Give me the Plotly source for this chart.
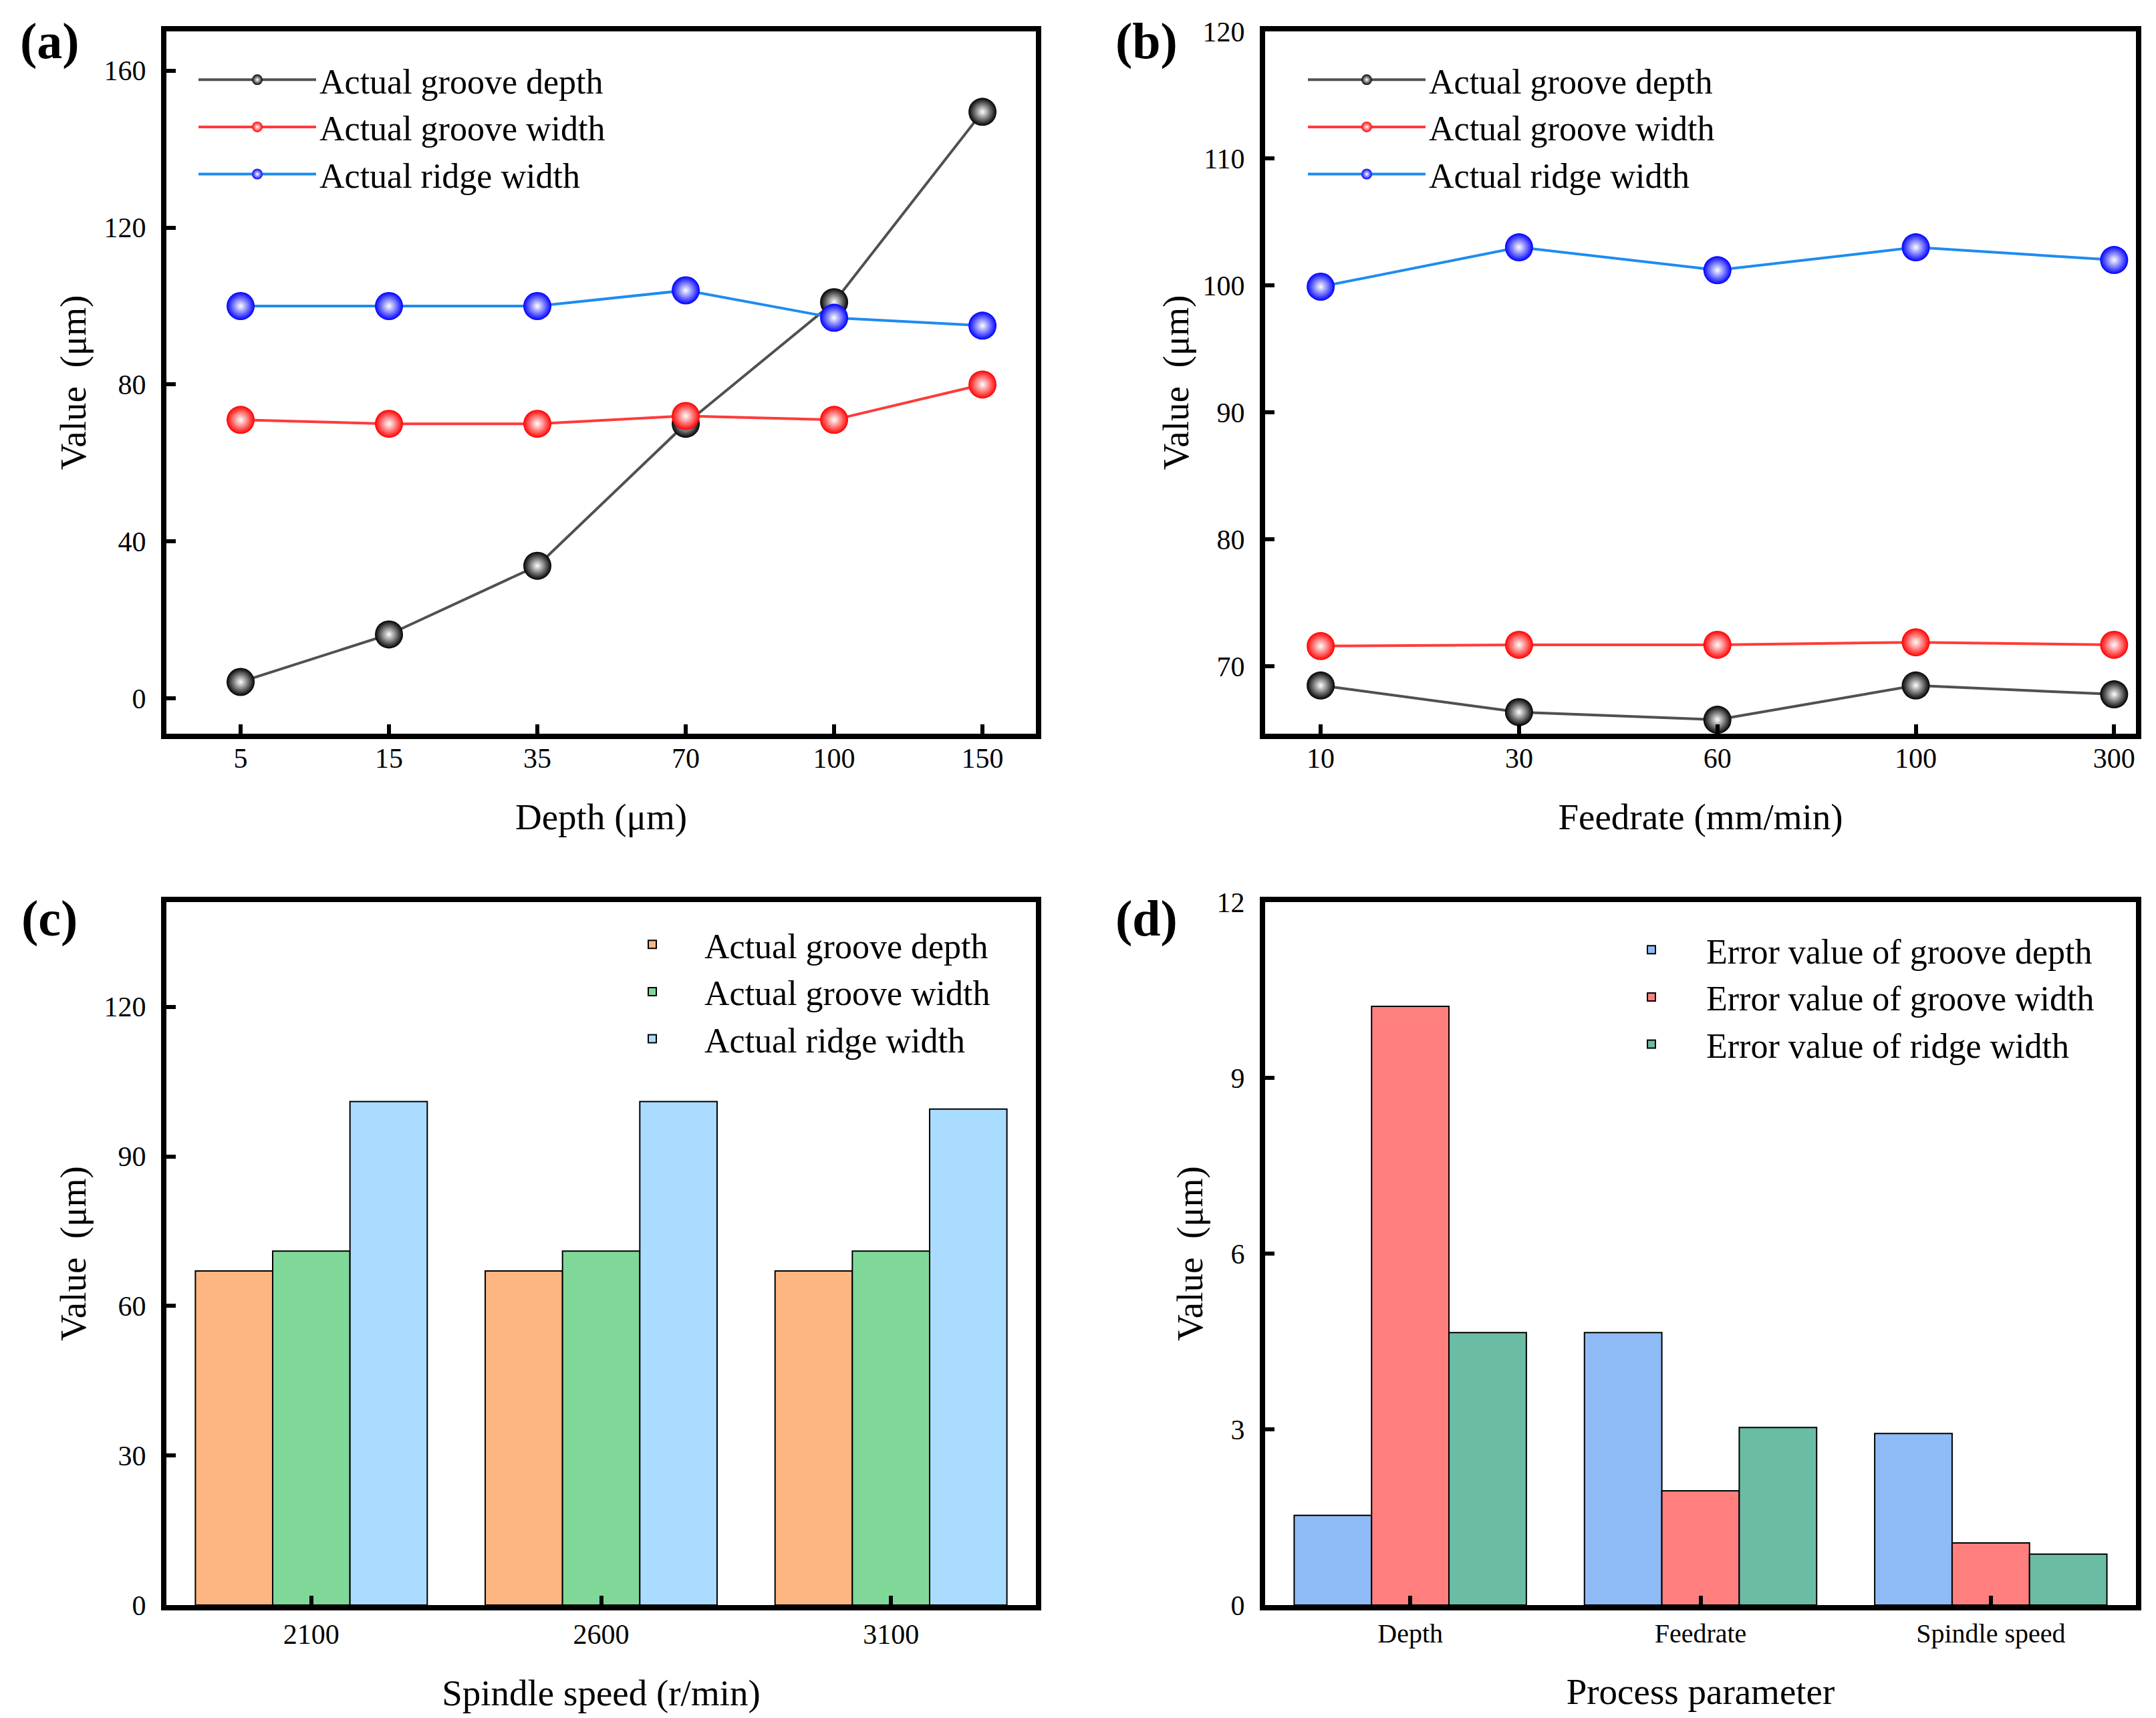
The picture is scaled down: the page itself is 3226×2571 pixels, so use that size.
import plotly.graph_objects as go

FONT = "Liberation Serif, Times New Roman, serif"
W, H = 3226, 2571

# (a) varying depth
depth_labels = ["5", "15", "35", "70", "100", "150"]
a_groove_depth = [4.2, 16.3, 33.8, 70.0, 101.0, 149.5]
a_groove_width = [71.0, 70.0, 70.0, 72.0, 71.0, 80.0]
a_ridge_width = [100.0, 100.0, 100.0, 104.0, 97.0, 95.0]

# (b) varying feedrate
feed_labels = ["10", "30", "60", "100", "300"]
b_groove_depth = [68.5, 66.4, 65.8, 68.5, 67.8]
b_groove_width = [71.6, 71.7, 71.7, 71.9, 71.7]
b_ridge_width = [99.9, 103.0, 101.2, 103.0, 102.0]

# (c) varying spindle speed
speed_labels = ["2100", "2600", "3100"]
c_groove_depth = [67.0, 67.0, 67.0]
c_groove_width = [71.0, 71.0, 71.0]
c_ridge_width = [101.0, 101.0, 99.5]

# (d) error values per process parameter
param_labels = ["Depth", "Feedrate", "Spindle speed"]
d_depth_err = [1.53, 4.65, 2.93]
d_width_err = [10.22, 1.95, 1.06]
d_ridge_err = [4.65, 3.03, 0.87]

line_names = ["Actual groove depth", "Actual groove width", "Actual ridge width"]
line_colors = ["#505050", "#FF3B3B", "#1E8CF0"]
marker_colors = ["#000000", "#FF0000", "#0000FF"]

fig = go.Figure()

def add_lines(x, series, xa, ya, legend):
    for name, vals, lc, mc in zip(line_names, series, line_colors, marker_colors):
        fig.add_trace(go.Scatter(
            x=x, y=vals, name=name, mode="lines+markers",
            xaxis=xa, yaxis=ya, legend=legend,
            line=dict(color=lc, width=4),
            marker=dict(size=42, color=mc,
                        gradient=dict(type="radial", color="#FFFFFF"),
                        line=dict(width=0)),
        ))

add_lines(depth_labels, [a_groove_depth, a_groove_width, a_ridge_width], "x", "y", "legend")
add_lines(feed_labels, [b_groove_depth, b_groove_width, b_ridge_width], "x2", "y2", "legend2")

bar_line = dict(color="black", width=2)
for name, vals, col in zip(line_names, [c_groove_depth, c_groove_width, c_ridge_width],
                           ["#FDB582", "#80D898", "#AADCFF"]):
    fig.add_trace(go.Bar(x=speed_labels, y=vals, name=name, xaxis="x3", yaxis="y3",
                         legend="legend3", marker=dict(color=col, line=bar_line)))

err_names = ["Error value of groove depth", "Error value of groove width", "Error value of ridge width"]
for name, vals, col in zip(err_names, [d_depth_err, d_width_err, d_ridge_err],
                           ["#8EBBF5", "#FF7F7F", "#6ABCA5"]):
    fig.add_trace(go.Bar(x=param_labels, y=vals, name=name, xaxis="x4", yaxis="y4",
                         legend="legend4", marker=dict(color=col, line=bar_line)))

tick_font = dict(family=FONT, size=42, color="black")
title_font = dict(family=FONT, size=55, color="black")

def ax(**kw):
    base = dict(showline=True, mirror=True, linecolor="black", linewidth=8,
                ticks="inside", ticklen=14, tickwidth=6, tickcolor="black",
                showgrid=False, zeroline=False, automargin=False, tickfont=tick_font)
    base.update(kw)
    return base

def xdom(l, r):
    return [l / W, r / W]

def ydom(t, b):
    return [1 - b / H, 1 - t / H]

ytitle = "Value\u00a0\u00a0(μm)"
dom_top = ydom(39, 1090)
dom_bot = ydom(1342, 2394)
dom_left = xdom(241, 1542)
dom_right = xdom(1885, 3188)

legend_style = dict(bgcolor="rgba(0,0,0,0)", font=dict(family=FONT, size=52, color="black"),
                    xanchor="left", yanchor="top", tracegroupgap=0)

fig.update_layout(
    width=W, height=H,
    paper_bgcolor="white", plot_bgcolor="white",
    margin=dict(l=0, r=0, t=0, b=0),
    barmode="group", bargap=0.2, bargroupgap=0,
    font=dict(family=FONT, color="black"),
    xaxis=ax(domain=dom_left, anchor="y", type="category", range=[-0.5, 5.36],
             ticklabelstandoff=-7,
             title=dict(text="Depth (μm)", font=title_font, standoff=48)),
    yaxis=ax(domain=dom_top, anchor="x", range=[-9, 170], tick0=0, dtick=40,
             ticklabelstandoff=14,
             title=dict(text=ytitle, font=title_font, standoff=12)),
    xaxis2=ax(domain=dom_right, anchor="y2", type="category", range=[-0.28, 4.11],
              ticklabelstandoff=-7,
              title=dict(text="Feedrate (mm/min)", font=title_font, standoff=48)),
    yaxis2=ax(domain=dom_top, anchor="x2", range=[64.7, 120], tick0=70, dtick=10,
              ticklabelstandoff=14,
              title=dict(text=ytitle, font=title_font, standoff=6)),
    xaxis3=ax(domain=dom_left, anchor="y3", type="category", range=[-0.5, 2.5],
              title=dict(text="Spindle speed (r/min)", font=title_font, standoff=48)),
    yaxis3=ax(domain=dom_bot, anchor="x3", range=[0, 141], tick0=0, dtick=30,
              ticklabelstandoff=14,
              title=dict(text=ytitle, font=title_font, standoff=12)),
    xaxis4=ax(domain=dom_right, anchor="y4", type="category", range=[-0.5, 2.5],
              tickfont=dict(family=FONT, size=40, color="black"),
              title=dict(text="Process parameter", font=title_font, standoff=48)),
    yaxis4=ax(domain=dom_bot, anchor="x4", range=[0, 12], tick0=0, dtick=3,
              ticklabelstandoff=14,
              title=dict(text=ytitle, font=title_font, standoff=6)),
    legend=dict(x=284 / W, y=1 - 71 / H, itemwidth=176, **legend_style),
    legend2=dict(x=1944 / W, y=1 - 71 / H, itemwidth=176, **legend_style),
    legend3=dict(x=890 / W, y=1 - 1365 / H, itemwidth=146, **legend_style),
    legend4=dict(x=2381 / W, y=1 - 1373 / H, itemwidth=154, **legend_style),
)

panel_labels = [("(a)", 66, 53), ("(b)", 1707, 53), ("(c)", 66, 1366), ("(d)", 1707, 1366)]
for text, px, py in panel_labels:
    fig.add_annotation(text=f"<b>{text}</b>", x=px / W, y=1 - py / H,
                       xref="paper", yref="paper", showarrow=False,
                       xanchor="center", yanchor="middle",
                       font=dict(family=FONT, size=76, color="black"))

fig.write_html("out.html")
